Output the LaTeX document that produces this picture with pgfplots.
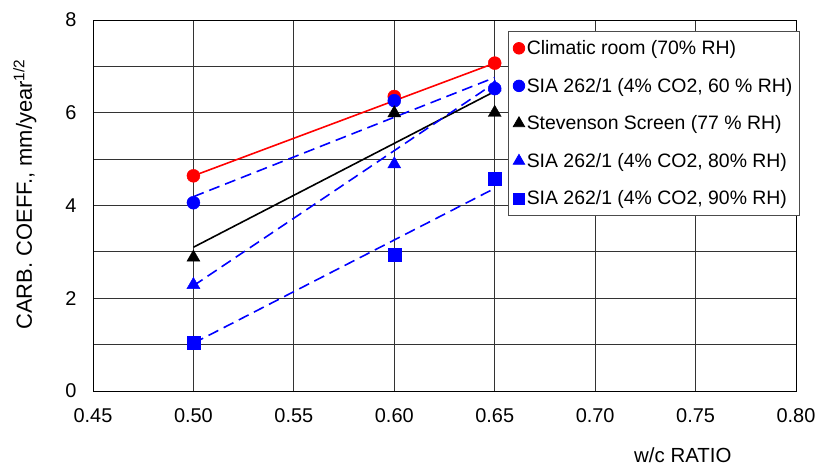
\documentclass[border=0pt]{standalone}
\usepackage{fontspec}
\setmainfont{Liberation Sans}
\usepackage{pgfplots}
\pgfplotsset{compat=1.18}
\begin{document}
\begin{tikzpicture}
\path[use as bounding box] (0,0) rectangle (819bp,468bp);
\begin{axis}[
  at={(93bp,77bp)}, anchor=south west,
  scale only axis, width=703bp, height=371bp,
  xmin=0.45, xmax=0.80, ymin=0, ymax=8,
  xtick={0.45,0.50,...,0.80},
  ytick={0,2,4,6,8},
  minor ytick={1,3,5,7},
  grid=both,
  major grid style={black!80, line width=0.8pt},
  minor grid style={black!80, line width=0.8pt},
  axis line style={black, line width=1pt},
  major tick length=0pt, minor tick length=0pt,
  /pgf/number format/assume math mode=true,
  xticklabel={\pgfmathprintnumber[fixed,fixed zerofill,precision=2]{\tick}},
  yticklabel={\pgfmathprintnumber[fixed,precision=0]{\tick}},
  tick label style={font=\fontsize{20}{24}\selectfont},
  xticklabel style={yshift=-14bp},
  yticklabel style={xshift=-13bp},
  xlabel={w/c RATIO},
  xlabel style={at={(axis description cs:0.839,-0.172)}, anchor=center, font=\fontsize{20.5}{24}\selectfont},
  ylabel={CARB. COEFF., mm/year\textsuperscript{1/2}},
  ylabel style={at={(axis description cs:-0.097,0.530)}, anchor=center, font=\fontsize{22}{26}\selectfont},
  legend style={at={(axis description cs:0.590,0.970)}, anchor=north west,
    draw=black!70, line width=0.8pt, fill=white,
    font=\fontsize{19.5}{23}\selectfont,
    row sep=18bp, inner xsep=5bp, inner ysep=7bp},
  legend cell align=left,
  legend image code/.code={\draw[#1] plot coordinates {(0bp,0bp)};},
  clip=false,
]
% trend lines
\addplot[red, line width=1.6pt, forget plot] coordinates {(0.5,4.64) (0.65,7.07)};
\addplot[blue, line width=1.6pt, dash pattern=on 11bp off 6bp, forget plot] coordinates {(0.5,4.19) (0.65,6.76)};
\addplot[black, line width=1.6pt, forget plot] coordinates {(0.5,3.10) (0.65,6.46)};
\addplot[blue, line width=1.6pt, dash pattern=on 11bp off 6bp, forget plot] coordinates {(0.5,2.27) (0.65,6.64)};
\addplot[blue, line width=1.6pt, dash pattern=on 11bp off 6bp, forget plot] coordinates {(0.5,1.03) (0.65,4.37)};
% data
\addplot[only marks, mark=*, red, mark size=6.5bp, forget plot] coordinates {(0.5,4.64) (0.6,6.35) (0.65,7.07)};
\addplot[only marks, mark=triangle*, blue, mark size=7.5bp, forget plot] coordinates {(0.5,2.29) (0.6,4.89) (0.65,6.55)};
\addplot[only marks, mark=*, blue, mark size=6.5bp, forget plot] coordinates {(0.5,4.06) (0.6,6.26) (0.65,6.52)};
\addplot[only marks, mark=triangle*, black, mark size=7.5bp, forget plot] coordinates {(0.5,2.88) (0.6,5.99) (0.65,6.00)};
\addplot[only marks, mark=square*, blue, mark size=6.5bp, forget plot] coordinates {(0.5,1.04) (0.6,2.93) (0.65,4.57)};
% legend
\addlegendimage{only marks, mark=*, red, mark size=5.8bp}
\addlegendentry{Climatic room (70\% RH)}
\addlegendimage{only marks, mark=*, blue, mark size=5.8bp}
\addlegendentry{SIA 262/1 (4\% CO2, 60 \% RH)}
\addlegendimage{only marks, mark=triangle*, black, mark size=6.6bp}
\addlegendentry{Stevenson Screen (77 \% RH)}
\addlegendimage{only marks, mark=triangle*, blue, mark size=6.6bp}
\addlegendentry{SIA 262/1 (4\% CO2, 80\% RH)}
\addlegendimage{only marks, mark=square*, blue, mark size=5.4bp}
\addlegendentry{SIA 262/1 (4\% CO2, 90\% RH)}
\end{axis}
\end{tikzpicture}
\end{document}
